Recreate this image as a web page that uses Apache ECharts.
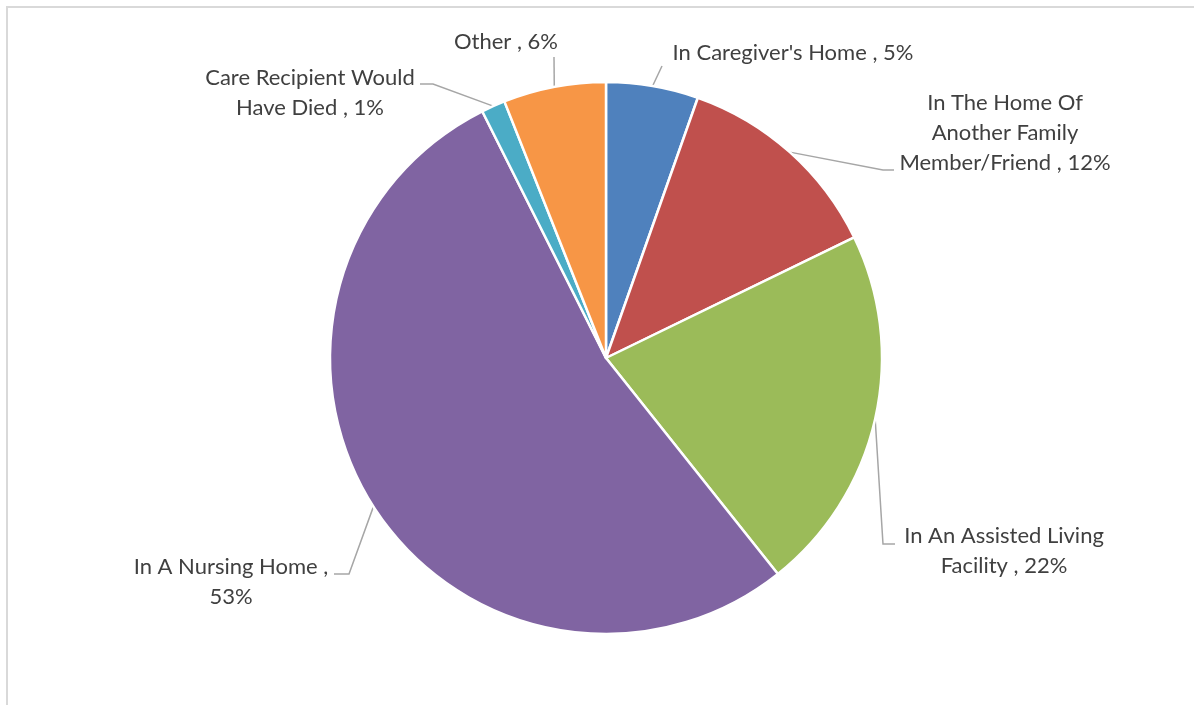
<!DOCTYPE html>
<html>
<head>
<meta charset="utf-8">
<script src="https://cdn.jsdelivr.net/npm/echarts@6/dist/echarts.min.js"></script>
<style>
  html, body { margin: 0; padding: 0; background: #fff; overflow: hidden; }
  #frame { position: absolute; left: 6px; top: 6px; width: 1200px; height: 710px; border: 2px solid #d9d9d9; box-sizing: border-box; }
  #chart { position: absolute; left: 0; top: 0; width: 1194px; height: 705px; }
</style>
</head>
<body>
<div id="frame"></div>
<div id="chart"></div>
<script>
// ---- data ----
const categories = [
  "In Caregiver's Home",
  "In The Home Of Another Family Member/Friend",
  "In An Assisted Living Facility",
  "In A Nursing Home",
  "Care Recipient Would Have Died",
  "Other"
];
const labelText = [
  "In Caregiver's Home",
  "In The Home Of\nAnother Family\nMember/Friend",
  "In An Assisted Living\nFacility",
  "In A Nursing Home ,\n",
  "Care Recipient Would\nHave Died",
  "Other"
];
const values = [5.4, 12.4, 21.5, 53.3, 1.4, 6.0];
const colors = ['#4F81BD', '#C0504D', '#9BBB59', '#8064A2', '#4BACC6', '#F79646'];

// ---- label placement (style only) ----
const labelPos = [
  { x: 793, y: 53,  elbow: null,      end: [662, 66] },
  { x: 1005, y: 133, elbow: [883, 170], end: [894, 170] },
  { x: 1004, y: 551, elbow: [883, 544], end: [895, 544] },
  { x: 231, y: 582, elbow: [349, 574], end: [334, 574] },
  { x: 310, y: 93,  elbow: [433, 84],  end: [420, 84] },
  { x: 506, y: 42,  elbow: null,      end: [554, 57] }
];

const total = values.reduce((a, b) => a + b, 0);
const chart = echarts.init(document.getElementById('chart'));
chart.setOption({
  animation: false,
  backgroundColor: 'transparent',
  series: [{
    type: 'pie',
    center: [606, 358],
    radius: 276,
    startAngle: 90,
    clockwise: true,
    avoidLabelOverlap: false,
    data: categories.map((c, i) => ({
      name: c,
      value: values[i],
      itemStyle: { color: colors[i] }
    })),
    itemStyle: { borderColor: '#ffffff', borderWidth: 2.5 },
    label: {
      show: true,
      position: 'outside',
      color: '#404040',
      fontFamily: 'Lato',
      fontSize: 22,
      lineHeight: 30,
      align: 'center',
      formatter: (p) => {
        const pct = Math.round(p.value / total * 100) + '%';
        const t = labelText[p.dataIndex];
        if (t.endsWith('\n')) return t + pct;
        return t + ' , ' + pct;
      }
    },
    labelLine: {
      show: true,
      length: 10,
      length2: 10,
      smooth: false,
      lineStyle: { color: '#a6a6a6', width: 1.5 }
    },
    labelLayout: (params) => {
      const L = labelPos[params.dataIndex];
      const p0 = params.labelLinePoints ? params.labelLinePoints[0] : null;
      const out = { x: L.x, y: L.y, align: 'center', verticalAlign: 'middle' };
      if (p0) {
        out.labelLinePoints = L.elbow ? [p0, L.elbow, L.end] : [p0, L.end, L.end];
      }
      return out;
    },
    emphasis: { disabled: true }
  }]
});
</script>
</body>
</html>
